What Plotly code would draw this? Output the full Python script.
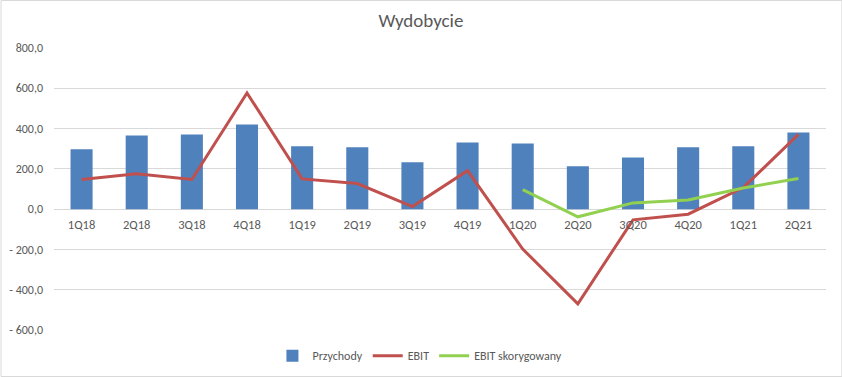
import plotly.graph_objects as go

categories = ["1Q18", "2Q18", "3Q18", "4Q18", "1Q19", "2Q19", "3Q19", "4Q19",
              "1Q20", "2Q20", "3Q20", "4Q20", "1Q21", "2Q21"]
przychody = [297, 366, 371, 420, 312, 307, 233, 331, 326, 213, 257, 307, 312, 381]
ebit = [147, 176, 147, 577, 150, 127, 13, 191, -198, -470, -53, -25, 107, 371]
ebit_skor = [None, None, None, None, None, None, None, None, 97, -38, 31, 45, 105, 152]

y_tickvals = [-600, -400, -200, 0, 200, 400, 600, 800]
y_ticktext = ["- 600,0", "- 400,0", "- 200,0", "0,0", "200,0", "400,0", "600,0", "800,0"]
y_range = [-600, 800]

FONT = "Carlito, Liberation Sans Narrow, Liberation Sans, Arial"

fig = go.Figure()
fig.add_trace(go.Bar(x=categories, y=przychody, name="Przychody",
                     marker=dict(color="#4f81bd", line=dict(width=0)), width=0.4))
fig.add_trace(go.Scatter(x=categories, y=ebit, name="EBIT", mode="lines",
                         line=dict(color="#c0504d", width=3)))
fig.add_trace(go.Scatter(x=categories, y=ebit_skor, name="EBIT skorygowany", mode="lines",
                         line=dict(color="#92d050", width=3), connectgaps=False))

zero_pos = (0 - y_range[0]) / (y_range[1] - y_range[0])

fig.update_layout(
    width=842, height=377,
    margin=dict(l=53.5, r=16.4, t=48, b=47, autoexpand=False),
    paper_bgcolor="white", plot_bgcolor="white",
    font=dict(family=FONT, color="#595959", size=12),
    title=dict(text="Wydobycie", x=0.5, xanchor="center", y=0.945, yanchor="middle",
               font=dict(family=FONT, size=19, color="#595959")),
    showlegend=True,
    legend=dict(orientation="h", x=0.474, xanchor="center", y=-0.04, yanchor="top",
                font=dict(family=FONT, size=12, color="#595959"),
                itemwidth=30, traceorder="normal"),
    bargap=0.6,
    xaxis=dict(showgrid=False, showline=False, ticks="", anchor="free", position=zero_pos,
               automargin=False, ticklabelstandoff=6,
               tickfont=dict(family=FONT, size=12.5, color="#595959"), fixedrange=True),
    yaxis=dict(range=y_range, tickvals=y_tickvals, ticktext=y_ticktext, automargin=False,
               showgrid=True, gridcolor="#d9d9d9", gridwidth=1,
               zeroline=True, zerolinecolor="#d9d9d9", zerolinewidth=1,
               showline=False, ticks="", ticklabelstandoff=10,
               tickfont=dict(family=FONT, size=12, color="#595959")),
    shapes=[dict(type="rect", xref="paper", yref="paper",
                 x0=-53 / 772.1, x1=(841.5 - 53.5) / 772.1,
                 y0=-(376.5 - 330) / 282, y1=1 + 47.5 / 282,
                 line=dict(color="#d9d9d9", width=1), fillcolor="rgba(0,0,0,0)", layer="below")],
)

fig.write_html("out.html", config={"displayModeBar": False},
               post_script="document.body.style.margin='0';document.body.style.overflow='hidden';")
